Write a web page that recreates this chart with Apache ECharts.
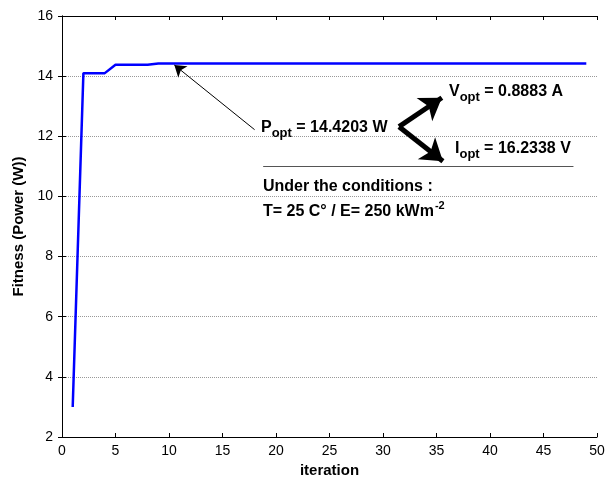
<!DOCTYPE html>
<html>
<head>
<meta charset="utf-8">
<script src="https://cdn.jsdelivr.net/npm/echarts@6/dist/echarts.min.js"></script>
<style>
  html, body { margin: 0; padding: 0; background: #fff; }
  #chart { width: 611px; height: 483px; }
</style>
</head>
<body>
<div id="chart"></div>
<script>
// best fitness per iteration (iteration = index + 1)
const fitness = [
  3.0, 14.1, 14.1, 14.1, 14.38, 14.38, 14.38, 14.38, 14.42, 14.42,
  14.42, 14.42, 14.42, 14.42, 14.42, 14.42, 14.42, 14.42, 14.42, 14.42,
  14.42, 14.42, 14.42, 14.42, 14.42, 14.42, 14.42, 14.42, 14.42, 14.42,
  14.42, 14.42, 14.42, 14.42, 14.42, 14.42, 14.42, 14.42, 14.42, 14.42,
  14.42, 14.42, 14.42, 14.42, 14.42, 14.42, 14.42, 14.42, 14.42
]
const xTicks = [0, 50, 5]   // min, max, interval
const yTicks = [2, 16, 2]

// annotation arrows, in data coords [from, to]
const pointerArrow = [[18.0, 12.22], [10.5, 14.37]]
const voltArrow = [[31.5, 12.32], [35.5, 13.28]]
const currArrow = [[31.5, 12.32], [35.6, 11.17]]
const separator = [[18.8, 11.0], [47.8, 11.0]]

const FONT = '"Liberation Sans", Arial, sans-serif'

const seriesData = fitness.map((v, i) => [i + 1, v])

const chart = echarts.init(document.getElementById('chart'))

const bold = { fontFamily: FONT, fontSize: 16, fontWeight: 'bold', color: '#000', verticalAlign: 'top' }
const sub = { fontFamily: FONT, fontSize: 13, fontWeight: 'bold', color: '#000', verticalAlign: 'top', padding: [7, 0, 0, 0] }

function richText(left, top, text, rich) {
  return {
    type: 'text', left: left, top: top, z: 100,
    style: { text: text, rich: rich }
  }
}

const axisCommon = {
  type: 'value',
  axisLine: { show: true, lineStyle: { color: '#000', width: 1 } },
  axisTick: { show: true, inside: true, length: 4, lineStyle: { color: '#000' } },
  splitLine: { show: false }
}

function arrowLine(pair, width, size) {
  return [
    { coord: pair[0], symbol: 'none', lineStyle: { color: '#000', width: width, type: 'solid' } },
    { coord: pair[1], symbol: 'arrow', symbolSize: size }
  ]
}

chart.setOption({
  backgroundColor: '#fff',
  animation: false,
  grid: { left: 62, right: 14, top: 16, bottom: 43 },
  xAxis: [
    Object.assign({}, axisCommon, {
      min: xTicks[0], max: xTicks[1], interval: xTicks[2],
      name: 'iteration', nameLocation: 'middle', nameGap: 26,
      nameTextStyle: { fontFamily: FONT, fontSize: 15, fontWeight: 'bold', color: '#000' },
      axisLabel: { fontFamily: FONT, fontSize: 14, color: '#000', margin: 7 }
    }),
    Object.assign({}, axisCommon, {
      position: 'top',
      min: xTicks[0], max: xTicks[1], interval: xTicks[2],
      axisLabel: { show: false }
    })
  ],
  yAxis: [
    Object.assign({}, axisCommon, {
      min: yTicks[0], max: yTicks[1], interval: yTicks[2],
      name: 'Fitness (Power (W))', nameLocation: 'middle', nameGap: 33,
      nameTextStyle: { fontFamily: FONT, fontSize: 15, fontWeight: 'bold', color: '#000' },
      axisLabel: { fontFamily: FONT, fontSize: 14, color: '#000', margin: 9 },
      splitLine: { show: true, lineStyle: { color: '#999', type: 'dotted', width: 1 } }
    }),
    Object.assign({}, axisCommon, {
      position: 'right',
      min: yTicks[0], max: yTicks[1], interval: yTicks[2],
      axisLabel: { show: false }
    })
  ],
  series: [{
    type: 'line',
    data: seriesData,
    showSymbol: false,
    lineStyle: { color: '#0000ff', width: 2.5 },
    z: 3,
    markLine: {
      silent: true,
      label: { show: false },
      emphasis: { disabled: true },
      data: [
        arrowLine(pointerArrow, 1, 11),
        arrowLine(voltArrow, 5, 21),
        arrowLine(currArrow, 5, 21),
        [
          { coord: separator[0], symbol: 'none', lineStyle: { color: '#555', width: 1, type: 'solid' } },
          { coord: separator[1], symbol: 'none' }
        ]
      ]
    }
  }],
  graphic: [
    richText(261, 120, '{b|P}{s|opt}{b| = 14.4203 W}', { b: bold, s: sub }),
    richText(449, 84, '{b|V}{s|opt}{b| = 0.8883 A}', { b: bold, s: sub }),
    richText(455, 141, '{b|I}{s|opt}{b| = 16.2338 V}', { b: bold, s: sub }),
    richText(263, 179, '{b|Under the conditions :}', { b: bold }),
    richText(263, 200, '{b|T= 25 C° / E= 250 kWm}{p|-2}', {
      b: Object.assign({}, bold, { padding: [4, 0, 0, 0] }),
      p: { fontFamily: FONT, fontSize: 11, fontWeight: 'bold', color: '#000', verticalAlign: 'top', padding: [0, 0, 0, 1] }
    })
  ]
})
</script>
</body>
</html>
